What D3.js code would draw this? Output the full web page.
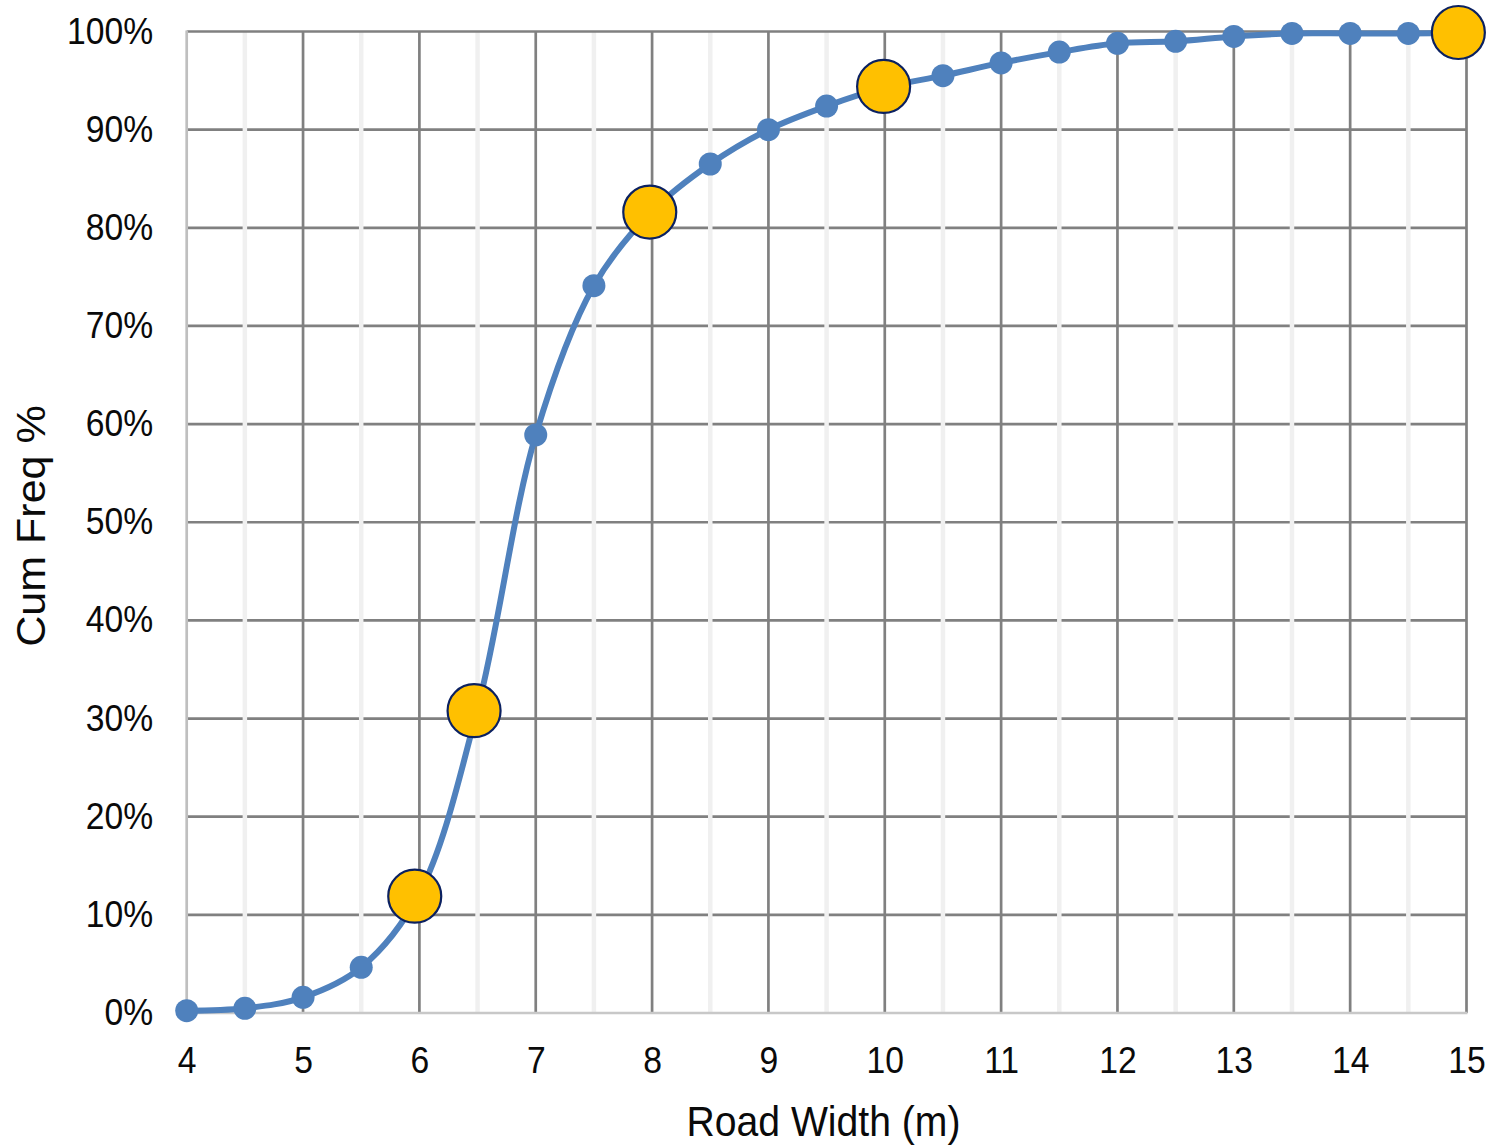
<!DOCTYPE html>
<html>
<head>
<meta charset="utf-8">
<script src="https://cdn.jsdelivr.net/npm/d3@7"></script>
<style>
  html, body { margin: 0; padding: 0; background: #fff; }
  svg { display: block; }
  text { font-family: "Liberation Sans", Arial, sans-serif; fill: #0a0a0a; }
</style>
</head>
<body>
<svg id="chart" width="1491" height="1145"></svg>
<script>
// Cumulative frequency of road widths (blue series, every 0.5 m)
const widths = [4, 4.5, 5, 5.5, 6, 6.5, 7, 7.5, 8, 8.5, 9, 9.5, 10,
                10.5, 11, 11.5, 12, 12.5, 13, 13.5, 14, 14.5, 15];
const cumFreq = [0.23, 0.48, 1.6, 4.65, 12.2, 31.0, 58.9, 74.1, 81.7, 86.5, 90.0, 92.4, 94.3,
                 95.5, 96.8, 97.9, 98.8, 99.0, 99.5, 99.8, 99.8, 99.8, 99.9];

// Highlighted percentile points (yellow)
const keyWidths = [5.96, 6.47, 7.98, 9.99, 14.93];
const keyFreq = [11.9, 30.8, 81.6, 94.4, 99.9];

// Axis ticks
const xTicks = [4, 5, 6, 7, 8, 9, 10, 11, 12, 13, 14, 15];
const xMinor = [4.5, 5.5, 6.5, 7.5, 8.5, 9.5, 10.5, 11.5, 12.5, 13.5, 14.5];
const yTicks = [0, 10, 20, 30, 40, 50, 60, 70, 80, 90, 100];

const svg = d3.select("#chart");
const plotLeft = 186.7, plotRight = 1466.5, plotTop = 31.5, plotBottom = 1013;

const x = d3.scaleLinear().domain([4, 15]).range([plotLeft, plotRight]);
const y = d3.scaleLinear().domain([0, 100]).range([plotBottom, plotTop]);

const grid = svg.append("g");
const darkGrid = "#808080";

// horizontal gridlines (inner)
grid.selectAll(".hgrid").data(yTicks.filter(v => v > 0 && v < 100)).join("line")
  .attr("x1", plotLeft).attr("x2", plotRight)
  .attr("y1", d => y(d)).attr("y2", d => y(d))
  .attr("stroke", darkGrid).attr("stroke-width", 2.7);

// minor vertical gridlines drawn on top of the horizontals
grid.selectAll(".vminor").data(xMinor).join("line")
  .attr("x1", d => x(d)).attr("x2", d => x(d))
  .attr("y1", plotTop).attr("y2", plotBottom)
  .attr("stroke", "#f0f0f0").attr("stroke-width", 4.5);

// major vertical gridlines
grid.selectAll(".vmajor").data(xTicks.filter(v => v > 4)).join("line")
  .attr("x1", d => x(d)).attr("x2", d => x(d))
  .attr("y1", plotTop).attr("y2", plotBottom)
  .attr("stroke", darkGrid).attr("stroke-width", 2.7);

// top border at 100%
grid.append("line")
  .attr("x1", plotLeft).attr("x2", plotRight + 1.3)
  .attr("y1", y(100)).attr("y2", y(100))
  .attr("stroke", darkGrid).attr("stroke-width", 2.7);

// axis lines
grid.append("line")
  .attr("x1", plotLeft).attr("x2", plotLeft).attr("y1", plotTop - 1).attr("y2", plotBottom)
  .attr("stroke", "#bfbfbf").attr("stroke-width", 2.7);
grid.append("line")
  .attr("x1", plotLeft - 1).attr("x2", plotRight + 1).attr("y1", plotBottom).attr("y2", plotBottom)
  .attr("stroke", "#c8c8c8").attr("stroke-width", 2.7);

// tick labels via d3 axes
const xAxis = svg.append("g")
  .attr("transform", `translate(0,${plotBottom})`)
  .call(d3.axisBottom(x).tickValues(xTicks).tickSize(0).tickFormat(d3.format("d")));
xAxis.select(".domain").remove();
xAxis.selectAll("text")
  .attr("y", 0).attr("dy", null)
  .attr("transform", "translate(0,60) scale(0.91,1)")
  .style("font-size", "37px").style("font-family", "'Liberation Sans', Arial, sans-serif")
  .attr("fill", "#0a0a0a");

const yAxis = svg.append("g")
  .attr("transform", `translate(${plotLeft},0)`)
  .call(d3.axisLeft(y).tickValues(yTicks).tickSize(0).tickFormat(d => d + "%"));
yAxis.select(".domain").remove();
yAxis.selectAll("text")
  .attr("x", 0).attr("dy", null)
  .attr("transform", "translate(-33.5,11.5) scale(0.91,1)")
  .style("font-size", "37px").style("font-family", "'Liberation Sans', Arial, sans-serif")
  .attr("fill", "#0a0a0a");

// axis titles
svg.append("text")
  .attr("text-anchor", "middle")
  .attr("transform", "translate(823.5,1136) scale(0.91,1)")
  .style("font-size", "43px")
  .text("Road Width (m)");

svg.append("text")
  .attr("text-anchor", "middle")
  .attr("transform", "translate(45,526) rotate(-90) scale(1.05,1)")
  .style("font-size", "41px")
  .text("Cum Freq %");

// smoothed cumulative curve
const pts = widths.map((w, i) => [w, cumFreq[i]]);
const line = d3.line()
  .x(d => x(d[0])).y(d => y(d[1]))
  .curve(d3.curveCatmullRom.alpha(0.5));

svg.append("path")
  .datum(pts)
  .attr("d", line)
  .attr("fill", "none")
  .attr("stroke", "#4F81BD")
  .attr("stroke-width", 6)
  .attr("stroke-linejoin", "round");

svg.selectAll(".dot").data(pts).join("circle")
  .attr("cx", d => x(d[0])).attr("cy", d => y(d[1]))
  .attr("r", 11.5)
  .attr("fill", "#4F81BD");

// percentile markers
const keys = keyWidths.map((w, i) => [w, keyFreq[i]]);
svg.selectAll(".key").data(keys).join("circle")
  .attr("cx", d => x(d[0])).attr("cy", d => y(d[1]))
  .attr("r", 26.5)
  .attr("fill", "#FFC000")
  .attr("stroke", "#0B2161")
  .attr("stroke-width", 2.2);
</script>
</body>
</html>
